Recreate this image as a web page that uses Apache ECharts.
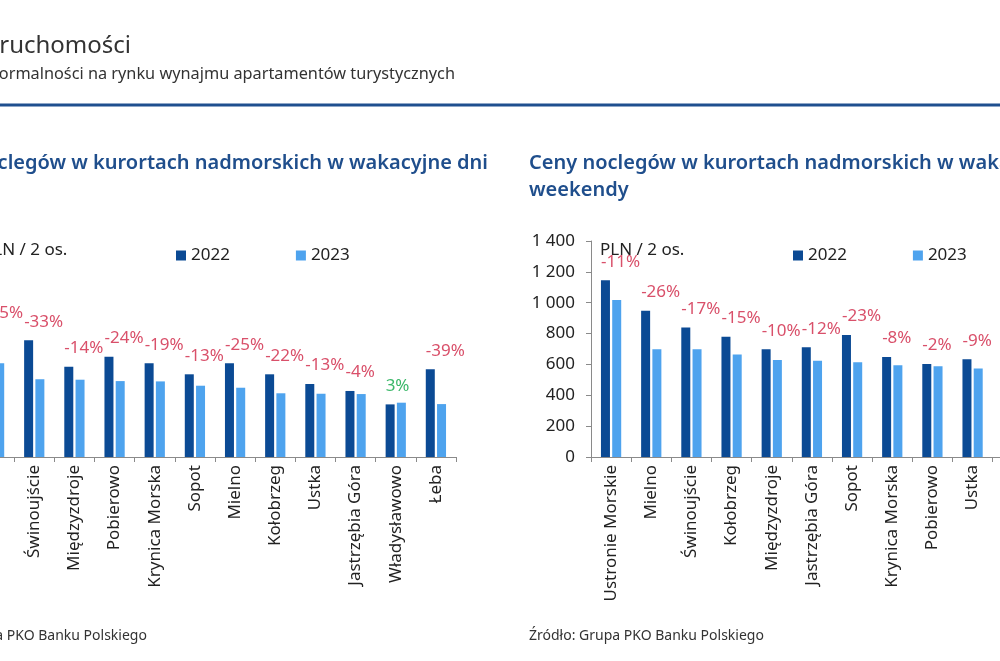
<!DOCTYPE html>
<html>
<head>
<meta charset="utf-8">
<script src="https://cdn.jsdelivr.net/npm/echarts@6/dist/echarts.min.js"></script>
<style>
  html, body { margin: 0; padding: 0; background: #fff; }
  #chart { width: 1000px; height: 661px; }
</style>
</head>
<body>
<div id="chart"></div>
<script>
// weekday prices (left chart)
var weekdayCities = ["Ustronie Morskie", "Świnoujście", "Międzyzdroje", "Pobierowo", "Krynica Morska", "Sopot", "Mielno", "Kołobrzeg", "Ustka", "Jastrzębia Góra", "Władysławowo", "Łeba"];
var weekday2022 = [810, 756, 585, 650, 607, 536, 607, 536, 473, 428, 341, 568];
var weekday2023 = [607, 504, 501, 492, 490, 462, 449, 413, 410, 408, 352, 343];
var weekdayChange = [-25, -33, -14, -24, -19, -13, -25, -22, -13, -4, 3, -39];

// weekend prices (right chart) - last two categories are cut off in the picture
var weekendCities = ["Ustronie Morskie", "Mielno", "Świnoujście", "Kołobrzeg", "Międzyzdroje", "Jastrzębia Góra", "Sopot", "Krynica Morska", "Pobierowo", "Ustka", "Władysławowo", "Łeba"];
var weekend2022 = [1145, 948, 840, 780, 698, 711, 791, 648, 603, 633, null, null];
var weekend2023 = [1017, 698, 698, 665, 629, 624, 614, 594, 588, 573, null, null];
var weekendChange = [-11, -26, -17, -15, -10, -12, -23, -8, -2, -9, null, null];

var yTicks = { min: 0, max: 1400, interval: 200 };

var dark = "#0b4a94";
var light = "#4ea3ee";
var titleBlue = "#1f4e8c";
var font = "'Noto Sans', sans-serif";

// x position of each chart's y axis; left chart is the same layout moved 617px left
var axisR = 591;
var axisL = axisR - 617;
var plotW = 482;

function fmtThousands(v) {
  return String(v).replace(/\B(?=(\d{3})+(?!\d))/g, " ");
}

function changeLabel(arr) {
  return function (p) {
    var v = arr[p.dataIndex];
    if (v == null) return "";
    return v > 0 ? "{pos|" + v + "%}" : "{neg|" + v + "%}";
  };
}

function xAxisFor(idx, cats) {
  return {
    type: "category",
    gridIndex: idx,
    data: cats,
    axisLine: { lineStyle: { color: "#8a8a8a", width: 1 } },
    axisTick: { show: true, length: 5, lineStyle: { color: "#8a8a8a" } },
    axisLabel: { rotate: 90, fontSize: 17, color: "#222", fontFamily: font, margin: 8, interval: 0 }
  };
}

function yAxisFor(idx) {
  return {
    type: "value",
    gridIndex: idx,
    min: yTicks.min,
    max: yTicks.max,
    interval: yTicks.interval,
    axisLine: { show: true, lineStyle: { color: "#8a8a8a" } },
    axisTick: { show: true, length: 5, lineStyle: { color: "#8a8a8a" } },
    splitLine: { show: false },
    axisLabel: { fontSize: 17, color: "#222", fontFamily: font, margin: 16, formatter: fmtThousands }
  };
}

function barSeries(name, idx, data, color, labels) {
  var s = {
    name: name,
    type: "bar",
    xAxisIndex: idx,
    yAxisIndex: idx,
    data: data,
    barWidth: 9,
    barGap: "25%",
    itemStyle: { color: color },
    animation: false
  };
  if (labels) {
    s.label = {
      show: true,
      position: "top",
      align: "left",
      distance: 10,
      offset: [-4.5, 0],
      fontFamily: font,
      formatter: changeLabel(labels),
      rich: {
        neg: { color: "#d9506a", fontSize: 17, fontFamily: font },
        pos: { color: "#3cb86a", fontSize: 17, fontFamily: font }
      }
    };
  }
  return s;
}

function legendFor(x) {
  return {
    left: x,
    top: 247,
    padding: 0,
    itemWidth: 10,
    itemHeight: 10,
    itemGap: 66,
    icon: "rect",
    data: ["2022", "2023"],
    textStyle: { fontSize: 17, color: "#222", fontFamily: font }
  };
}

function txt(text, x, y, size, color, align, weight) {
  return {
    type: "text",
    style: {
      text: text, x: x, y: y,
      font: (weight || "normal") + " " + size + "px " + font,
      fill: color, align: align || "left", verticalAlign: "middle"
    }
  };
}

var chart = echarts.init(document.getElementById("chart"), null, { renderer: "canvas" });

var option = {
  backgroundColor: "#fff",
  animation: false,
  grid: [
    { left: axisL, top: 241, width: plotW, height: 216, outerBoundsMode: "none" },
    { left: axisR, top: 241, width: plotW, height: 216, outerBoundsMode: "none" }
  ],
  xAxis: [xAxisFor(0, weekdayCities), xAxisFor(1, weekendCities)],
  yAxis: [yAxisFor(0), yAxisFor(1)],
  legend: [legendFor(axisL + 202), legendFor(axisR + 202)],
  series: [
    barSeries("2022", 0, weekday2022, dark, weekdayChange),
    barSeries("2023", 0, weekday2023, light),
    barSeries("2022", 1, weekend2022, dark, weekendChange),
    barSeries("2023", 1, weekend2023, light)
  ],
  graphic: [
    txt("Nieruchomości", 131, 46, 24, "#333", "right"),
    txt("Rosnąca skala nieformalności na rynku wynajmu apartamentów turystycznych", 455, 74, 16.3, "#333", "right"),
    { type: "line", shape: { x1: 0, y1: 105, x2: 1000, y2: 105 }, style: { stroke: "#1f4f8f", lineWidth: 3 } },
    txt("Ceny noclegów w kurortach nadmorskich w wakacyjne dni", 488, 163, 20, titleBlue, "right", "600"),
    txt("Ceny noclegów w kurortach nadmorskich w wakacyjne", axisR - 62, 163, 20, titleBlue, "left", "600"),
    txt("weekendy", axisR - 62, 190, 20, titleBlue, "left", "600"),
    txt("PLN / 2 os.", axisL + 9, 250, 17, "#222", "left"),
    txt("PLN / 2 os.", axisR + 9, 250, 17, "#222", "left"),
    txt("Źródło: Grupa PKO Banku Polskiego", axisL - 62, 636, 14, "#333", "left"),
    txt("Źródło: Grupa PKO Banku Polskiego", axisR - 62, 636, 14, "#333", "left")
  ]
};

chart.setOption(option);
</script>
</body>
</html>
